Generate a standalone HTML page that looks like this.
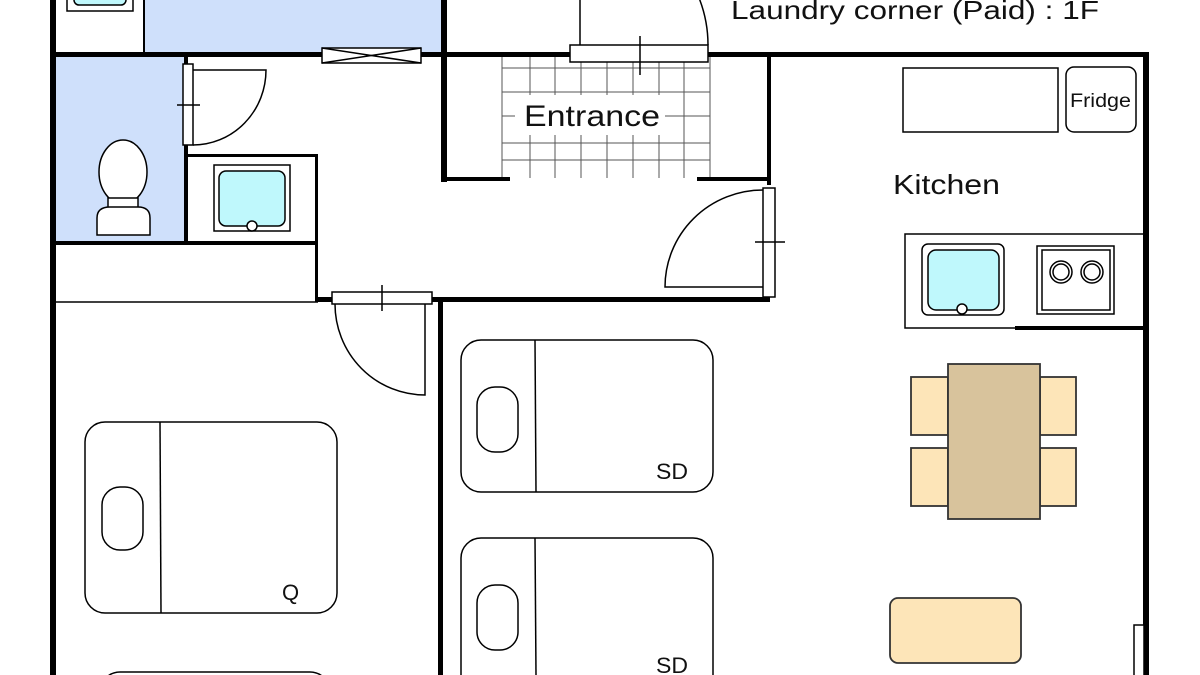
<!DOCTYPE html>
<html><head><meta charset="utf-8"><style>html,body{margin:0;padding:0;background:#fff;width:1200px;height:675px;overflow:hidden}svg{display:block}text{font-family:"Liberation Sans","DejaVu Sans",sans-serif}</style></head>
<body>
<svg width="1200" height="675" viewBox="0 0 1200 675" xmlns="http://www.w3.org/2000/svg">
<rect width="1200" height="675" fill="#fff"/>
<rect x="144" y="0" width="299" height="53" fill="#cfe0fb"/>
<line x1="144" y1="0" x2="144" y2="53" stroke="#000" stroke-width="2"/>
<rect x="56" y="57" width="130" height="186" fill="#cfe0fb"/>
<rect x="67" y="-10" width="66" height="21" fill="#fff" stroke="#000" stroke-width="1.5"/>
<rect x="74" y="-10" width="52" height="15" rx="5" fill="#bff8fc" stroke="#000" stroke-width="1.5"/>
<g stroke="#555" stroke-width="1">
<line x1="530" y1="57" x2="530" y2="178"/><line x1="555" y1="57" x2="555" y2="178"/><line x1="581" y1="57" x2="581" y2="178"/><line x1="607" y1="57" x2="607" y2="178"/><line x1="633" y1="57" x2="633" y2="178"/><line x1="659" y1="57" x2="659" y2="178"/><line x1="684" y1="57" x2="684" y2="178"/><line x1="710" y1="57" x2="710" y2="178"/><line x1="502" y1="57" x2="502" y2="178"/>
<line x1="502" y1="68" x2="710" y2="68"/><line x1="502" y1="92" x2="710" y2="92"/><line x1="502" y1="116" x2="710" y2="116"/><line x1="502" y1="143" x2="710" y2="143"/><line x1="502" y1="160" x2="710" y2="160"/>
</g>
<rect x="515" y="95" width="150" height="40" fill="#fff"/>
<text x="524" y="126" font-size="30" fill="#111" textLength="136" lengthAdjust="spacingAndGlyphs">Entrance</text>
<g fill="#000">
<rect x="50" y="0" width="6" height="675"/>
<rect x="50" y="52" width="395" height="5"/>
<rect x="441" y="0" width="6" height="182"/>
<rect x="443" y="52" width="127" height="5"/>
<rect x="708" y="52" width="441" height="5"/>
<rect x="1143" y="52" width="6" height="623"/>
<rect x="443" y="177" width="67" height="4"/>
<rect x="697" y="177" width="73" height="4"/>
<rect x="767" y="55" width="4" height="130"/>
<rect x="50" y="241" width="268" height="4"/>
<rect x="184" y="57" width="4" height="186"/>
<rect x="315" y="154" width="3" height="148"/>
<rect x="188" y="154" width="130" height="3"/>
<rect x="315" y="297" width="20" height="5"/>
<rect x="432" y="297" width="338" height="5"/>
<rect x="438" y="300" width="5" height="375"/>
<rect x="1015" y="326" width="130" height="4"/>
</g>
<line x1="56" y1="302" x2="318" y2="302" stroke="#000" stroke-width="1.5"/>
<g stroke="#000" stroke-width="1.5" fill="#fff">
<rect x="322" y="48" width="99" height="15"/>
<line x1="322" y1="48" x2="421" y2="63"/><line x1="322" y1="63" x2="421" y2="48"/>
</g>
<g stroke="#000" stroke-width="1.5" fill="none">
<rect x="183" y="64" width="10" height="81" fill="#fff"/>
<path d="M193 70 H266 A73 75 0 0 1 193 145"/>
<line x1="177" y1="105" x2="200" y2="105"/>
<ellipse cx="123" cy="172" rx="24" ry="32" fill="#fff"/>
<rect x="108" y="198" width="30" height="10" fill="#fff"/>
<path d="M97 235 V218 Q97 207 110 207 H138 Q150 207 150 218 V235 Z" fill="#fff"/>
<rect x="214" y="165" width="76" height="66" fill="#fff"/>
<rect x="219" y="171" width="66" height="55" rx="7" fill="#bff8fc"/>
<circle cx="252" cy="226" r="5" fill="#fff"/>
<rect x="332" y="292" width="100" height="12" fill="#fff"/>
<line x1="382" y1="285" x2="382" y2="311"/>
<path d="M335 304 A90 91 0 0 0 425 395 V304"/>
<rect x="570" y="45" width="138" height="17" fill="#fff"/>
<line x1="640" y1="36" x2="640" y2="75"/>
<path d="M580 45 V0 M580 -83 A128 128 0 0 1 708 45"/>
<rect x="763" y="188" width="12" height="109" fill="#fff"/>
<line x1="755" y1="242" x2="785" y2="242"/>
<path d="M763 190 A98 97 0 0 0 665 287 H763"/>
<rect x="903" y="68" width="155" height="64"/>
<rect x="1066" y="67" width="70" height="65" rx="8"/>
<path d="M1145 234 H905 V328 H1015"/>
<rect x="922" y="244" width="82" height="71" rx="6"/>
<rect x="928" y="250" width="71" height="60" rx="8" fill="#bff8fc"/>
<circle cx="962" cy="309" r="5" fill="#fff"/>
<rect x="1037" y="246" width="77" height="68"/>
<rect x="1042" y="250" width="68" height="60"/>
<circle cx="1061" cy="272" r="11"/><circle cx="1061" cy="272" r="8"/>
<circle cx="1092" cy="272" r="11"/><circle cx="1092" cy="272" r="8"/>
<rect x="85" y="422" width="252" height="191" rx="20"/>
<line x1="160" y1="422" x2="161" y2="613"/>
<rect x="102" y="487" width="41" height="63" rx="18"/>
<rect x="100" y="672" width="230" height="40" rx="20"/>
<rect x="461" y="340" width="252" height="152" rx="20"/>
<line x1="535" y1="340" x2="536" y2="492"/>
<rect x="477" y="387" width="41" height="65" rx="18"/>
<rect x="461" y="538" width="252" height="160" rx="20"/>
<line x1="535" y1="538" x2="536" y2="675"/>
<rect x="477" y="585" width="41" height="65" rx="18"/>
</g>
<text x="282" y="600" font-size="22" fill="#111">Q</text>
<text x="656" y="479" font-size="22" fill="#111" textLength="32" lengthAdjust="spacingAndGlyphs">SD</text>
<text x="656" y="673" font-size="22" fill="#111" textLength="32" lengthAdjust="spacingAndGlyphs">SD</text>
<text x="1070" y="107" font-size="19" fill="#111" textLength="61" lengthAdjust="spacingAndGlyphs">Fridge</text>
<text x="893" y="194" font-size="28" fill="#111" textLength="107" lengthAdjust="spacingAndGlyphs">Kitchen</text>
<text x="731" y="19" font-size="26" fill="#111" textLength="368" lengthAdjust="spacingAndGlyphs">Laundry corner (Paid) : 1F</text>
<g stroke="#333" stroke-width="1.8">
<rect x="911" y="377" width="37" height="58" fill="#fde5b8"/>
<rect x="911" y="448" width="37" height="58" fill="#fde5b8"/>
<rect x="1040" y="377" width="36" height="58" fill="#fde5b8"/>
<rect x="1040" y="448" width="36" height="58" fill="#fde5b8"/>
<rect x="948" y="364" width="92" height="155" fill="#d8c39c"/>
<rect x="890" y="598" width="131" height="65" rx="8" fill="#fde5b8"/>
</g>
<rect x="1134" y="625" width="10" height="55" fill="#fff" stroke="#000" stroke-width="1.5"/>
</svg>
</body></html>
